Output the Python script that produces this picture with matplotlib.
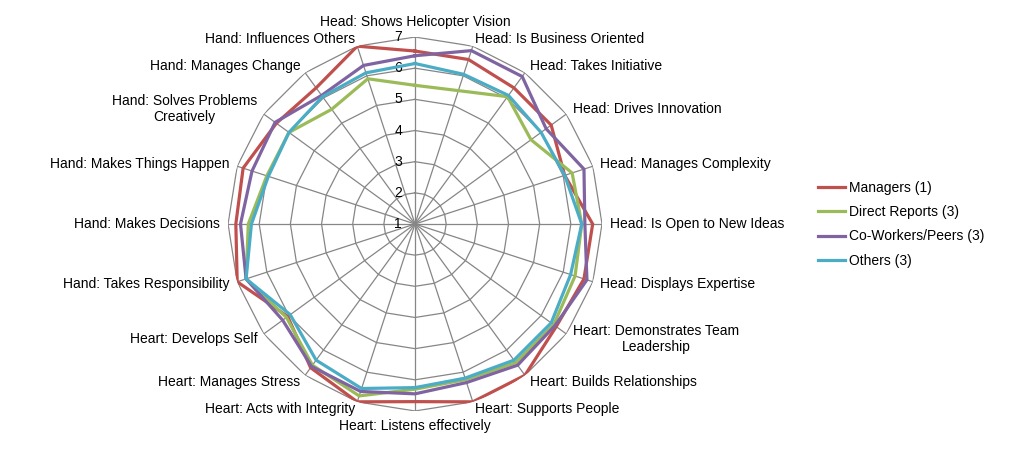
import numpy as np
import matplotlib
matplotlib.use("Agg")
import matplotlib.pyplot as plt
from matplotlib.transforms import offset_copy

plt.rcParams['font.family'] = ['Liberation Sans', 'DejaVu Sans']

# categories, clockwise from the top
categories = [
    "Head: Shows Helicopter Vision", "Head: Is Business Oriented", "Head: Takes Initiative",
    "Head: Drives Innovation", "Head: Manages Complexity", "Head: Is Open to New Ideas",
    "Head: Displays Expertise", "Heart: Demonstrates Team\nLeadership", "Heart: Builds Relationships",
    "Heart: Supports People", "Heart: Listens effectively", "Heart: Acts with Integrity",
    "Heart: Manages Stress", "Heart: Develops Self", "Hand: Takes Responsibility",
    "Hand: Makes Decisions", "Hand: Makes Things Happen", "Hand: Solves Problems\nCreatively",
    "Hand: Manages Change", "Hand: Influences Others",
]

managers = [6.55, 6.55, 6.4, 6.4, 6.05, 6.7, 6.7, 6.6, 7.0, 7.0,
            6.7, 7.0, 6.7, 6.05, 7.0, 6.75, 6.8, 6.5, 6.4, 7.0]
direct_reports = [5.45, 5.5, 6.05, 5.6, 6.3, 6.35, 6.4, 6.5, 6.5, 6.25,
                  6.3, 6.8, 6.6, 6.1, 6.7, 6.35, 6.0, 6.0, 5.55, 5.9]
coworkers = [6.4, 6.85, 6.85, 6.2, 6.7, 6.45, 6.8, 6.55, 6.6, 6.35,
             6.45, 6.65, 6.65, 6.25, 6.7, 6.6, 6.5, 6.55, 6.1, 6.35]
others = [6.15, 6.05, 6.1, 6.0, 6.05, 6.35, 6.25, 6.4, 6.4, 6.2,
          6.25, 6.55, 6.4, 5.95, 6.7, 6.25, 5.95, 6.0, 6.05, 6.1]

series_names = ["Managers (1)", "Direct Reports (3)", "Co-Workers/Peers (3)", "Others (3)"]
series_colors = ["#C0504D", "#9BBB59", "#8064A2", "#4BACC6"]
ring_values = [1, 2, 3, 4, 5, 6, 7]

n = len(categories)
angles = np.linspace(0, 2 * np.pi, n, endpoint=False)
closed = np.append(angles, angles[0])

fig = plt.figure(figsize=(10.24, 4.54), dpi=100)
ax = fig.add_axes([0.2227, 0.0947, 0.3652, 0.8238], projection='polar')
ax.set_theta_zero_location('N')
ax.set_theta_direction(-1)
ax.set_ylim(1, 7)
ax.grid(False)
ax.spines['polar'].set_visible(False)
ax.set_xticks([])
ax.set_yticks([])
ax.patch.set_alpha(0)

grid_color = "#868686"
# polygon rings
for v in ring_values[1:]:
    ax.plot(closed, [v] * (n + 1), color=grid_color, lw=0.9, zorder=1)
# spokes
for a in angles:
    ax.plot([a, a], [1, 7], color=grid_color, lw=0.9, zorder=1)

# radial value labels
lab_tr = offset_copy(ax.transData, fig=fig, x=-13, y=0, units='dots')
for v in ring_values:
    ax.text(0, v, str(v), transform=lab_tr, ha='right', va='center', fontsize=10, zorder=2)

# data series
all_series = [managers, direct_reports, coworkers, others]
for vals, name, col in zip(all_series, series_names, series_colors):
    ax.plot(closed, vals + vals[:1], color=col, lw=2.3, label=name, zorder=3,
            solid_joinstyle='miter')

# category labels
for a, lab in zip(angles, categories):
    s, c = np.sin(a), np.cos(a)
    tr = offset_copy(ax.transData, fig=fig, x=8 * s, y=8 * c, units='dots')
    if s > 0.05:
        ha = 'left'
    elif s < -0.05:
        ha = 'right'
    else:
        ha = 'center'
    if abs(s) < 0.05:
        va = 'bottom' if c > 0 else 'top'
    else:
        va = 'center'
    ax.text(a, 7, lab, transform=tr, ha=ha, va=va, fontsize=10,
            multialignment='center', zorder=2)

fig.legend(loc='center left', bbox_to_anchor=(0.799, 0.506), frameon=False,
           fontsize=10, handlelength=1.95, handletextpad=0.25, labelspacing=0.74,
           borderpad=0, borderaxespad=0)

fig.savefig("out.png", dpi=100)
